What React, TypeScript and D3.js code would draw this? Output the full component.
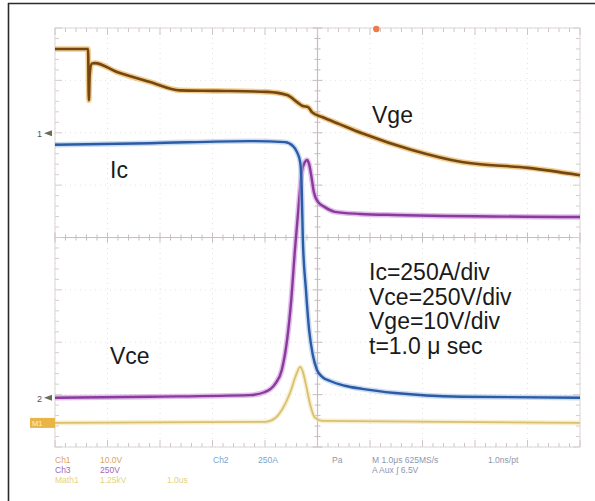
import React from "react";
import * as d3 from "d3";

// time in divisions (1.0 µs/div), value in divisions from centre line
const vgeT = [0, 0.63, 0.645, 0.66, 0.7, 0.76, 1.18, 1.81, 2.38, 3.09, 4.04, 4.42, 4.63, 4.72, 4.82, 4.9, 5.09, 5.43, 5.85, 6.8, 7.75, 9.01, 10];
const vgeV = [3.6, 3.6, 2.62, 3.1, 3.32, 3.33, 3.16, 2.97, 2.81, 2.8, 2.78, 2.72, 2.57, 2.51, 2.49, 2.39, 2.3, 2.16, 1.99, 1.67, 1.44, 1.33, 1.19];

const icT = [0, 1.81, 3.71, 4.38, 4.53, 4.61, 4.67, 4.7, 4.72, 4.78, 4.84, 4.91, 4.99, 5.09, 5.24, 5.52, 5.85, 6.48, 7.75, 10];
const icV = [1.77, 1.8, 1.84, 1.82, 1.75, 1.63, 1.44, 0.91, -0.01, -1.0, -1.76, -2.24, -2.53, -2.66, -2.74, -2.83, -2.89, -2.97, -3.04, -3.06];

const vceT = [0, 1.81, 3.71, 4.0, 4.19, 4.32, 4.42, 4.5, 4.57, 4.65, 4.7, 4.76, 4.8, 4.84, 4.88, 4.93, 5.01, 5.14, 5.33, 5.81, 6.48, 10];
const vceV = [-3.06, -3.04, -3.01, -2.95, -2.8, -2.53, -1.96, -1.19, -0.24, 0.72, 1.25, 1.44, 1.48, 1.4, 1.19, 0.87, 0.68, 0.58, 0.49, 0.45, 0.43, 0.39];

const mathT = [0, 4.0, 4.19, 4.34, 4.48, 4.59, 4.67, 4.72, 4.78, 4.86, 4.95, 5.09, 10];
const mathV = [-3.54, -3.52, -3.45, -3.26, -2.96, -2.63, -2.47, -2.56, -2.81, -3.19, -3.44, -3.5, -3.54];

const scaleLines = ["Ic=250A/div", "Vce=250V/div", "Vge=10V/div", "t=1.0 μ sec"];
const statusLeft = [
  { a: "Ch1", b: "10.0V", c: "#d9a467" },
  { a: "Ch3", b: "250V", c: "#a067b8" },
  { a: "Math1", b: "1.25kV", c: "#e6d27a" },
];

export default function App() {
  const W = 595, H = 501;
  const x = d3.scaleLinear().domain([0, 10]).range([55, 580]);
  const y = d3.scaleLinear().domain([-4, 4]).range([447, 28]);
  const line = d3.line<[number, number]>().x(d => x(d[0])).y(d => y(d[1])).curve(d3.curveMonotoneX);
  const zip = (a: number[], b: number[]) => a.map((t, i) => [t, b[i]] as [number, number]);

  const traces = [
    { d: zip(mathT, mathV), core: "#d9c070", glow: "#f0e2a8", w: 1.8 },
    { d: zip(vceT, vceV), core: "#8a3a9c", glow: "#c98ad8", w: 2.4 },
    { d: zip(icT, icV), core: "#2b5aa6", glow: "#9cc0e6", w: 2.4 },
    { d: zip(vgeT, vgeV), core: "#74470f", glow: "#e5a236", w: 2.6 },
  ];

  const majorX = d3.range(0, 11);
  const majorY = d3.range(-4, 5);
  const minorX = d3.range(0, 50.01, 1).map(v => v / 5);
  const minorY = d3.range(-20, 20.01, 1).map(v => v / 5);
  const gridCol = "#c9bcbc";
  const font = "Liberation Sans, Arial, sans-serif";

  return (
    <svg width={W} height={H} style={{ position: "absolute", left: 0, top: 0, background: "#fff" }}>
      <rect x={0} y={0} width={W} height={H} fill="#ffffff" />
      {/* frame */}
      <line x1={8} y1={3.5} x2={595} y2={3.5} stroke="#2b2b2b" strokeWidth={1.6} />
      <line x1={8.5} y1={3} x2={8.5} y2={501} stroke="#2b2b2b" strokeWidth={1.6} />

      {/* faint major grid */}
      {majorX.map(v => (
        <line key={"gx" + v} x1={x(v)} x2={x(v)} y1={y(4)} y2={y(-4)} stroke="#e6e2e2" strokeWidth={1} strokeDasharray="1 4" />
      ))}
      {majorY.map(v => (
        <line key={"gy" + v} x1={x(0)} x2={x(10)} y1={y(v)} y2={y(v)} stroke="#e6e2e2" strokeWidth={1} strokeDasharray="1 4" />
      ))}
      {/* graticule edges */}
      <rect x={x(0)} y={y(4)} width={x(10) - x(0)} height={y(-4) - y(4)} fill="none" stroke="#ddd6d6" strokeWidth={1} />
      {/* centre cross */}
      <line x1={x(0)} x2={x(10)} y1={y(0)} y2={y(0)} stroke={gridCol} strokeWidth={1.2} />
      <line x1={x(5)} x2={x(5)} y1={y(4)} y2={y(-4)} stroke={gridCol} strokeWidth={1.2} />
      {minorX.map(v => {
        const big = Math.abs(v - Math.round(v)) < 1e-6;
        const l = big ? 5 : 3;
        return (
          <g key={"mx" + v}>
            <line x1={x(v)} x2={x(v)} y1={y(0) - l} y2={y(0) + l} stroke={gridCol} strokeWidth={1} />
            <line x1={x(v)} x2={x(v)} y1={y(4)} y2={y(4) + (big ? 7 : 4)} stroke="#cfc6c6" strokeWidth={1} />
            <line x1={x(v)} x2={x(v)} y1={y(-4)} y2={y(-4) - (big ? 7 : 4)} stroke="#cfc6c6" strokeWidth={1} />
          </g>
        );
      })}
      {minorY.map(v => {
        const big = Math.abs(v - Math.round(v)) < 1e-6;
        const l = big ? 5 : 3;
        return (
          <g key={"my" + v}>
            <line x1={x(5) - l} x2={x(5) + l} y1={y(v)} y2={y(v)} stroke={gridCol} strokeWidth={1} />
            <line x1={x(0)} x2={x(0) + (big ? 7 : 4)} y1={y(v)} y2={y(v)} stroke="#d6cece" strokeWidth={1} />
            <line x1={x(10)} x2={x(10) - (big ? 7 : 4)} y1={y(v)} y2={y(v)} stroke="#d6cece" strokeWidth={1} />
          </g>
        );
      })}

      {/* trigger marker */}
      <circle cx={x(6.12)} cy={y(4) + 1} r={3.2} fill="#ec7a4a" />

      {/* traces */}
      {traces.map((t, i) => (
        <g key={"tr" + i}>
          <path d={line(t.d) || ""} fill="none" stroke={t.glow} strokeWidth={t.w + 3} strokeOpacity={0.55} strokeLinejoin="round" />
          <path d={line(t.d) || ""} fill="none" stroke={t.core} strokeWidth={t.w} strokeLinejoin="round" />
        </g>
      ))}

      {/* channel markers */}
      <text x={37} y={y(1.99) + 4} fontFamily={font} fontSize={9} fill="#555">1</text>
      <path d={`M44,${y(1.99)} l8,-3 v6 z`} fill="#6b6b5a" />
      <text x={37} y={y(-3.06) + 4} fontFamily={font} fontSize={9} fill="#555">2</text>
      <path d={`M44,${y(-3.06)} l8,-3 v6 z`} fill="#6b6b5a" />
      <rect x={30} y={y(-3.54) - 5} width={25} height={10} fill="#e9b546" />
      <text x={32} y={y(-3.54) + 3} fontFamily={font} fontSize={7.5} fill="#fff2c0">M1</text>

      {/* labels */}
      <text x={372} y={123} fontFamily={font} fontSize={23} fill="#1a1a1a">Vge</text>
      <text x={110} y={178} fontFamily={font} fontSize={23} fill="#1a1a1a">Ic</text>
      <text x={110} y={364} fontFamily={font} fontSize={23} fill="#1a1a1a">Vce</text>
      {scaleLines.map((s, i) => (
        <text key={s} x={369} y={280 + i * 24.5} fontFamily={font} fontSize={23} fill="#1a1a1a">{s}</text>
      ))}

      {/* status line */}
      {statusLeft.map((s, i) => (
        <g key={s.a}>
          <text x={55} y={463 + i * 10} fontFamily={font} fontSize={8.5} fill={s.c}>{s.a}</text>
          <text x={100} y={463 + i * 10} fontFamily={font} fontSize={8.5} fill={s.c}>{s.b}</text>
        </g>
      ))}
      <text x={167} y={483} fontFamily={font} fontSize={8.5} fill="#e6d27a">1.0us</text>
      <text x={213} y={463} fontFamily={font} fontSize={8.5} fill="#7aa6cc">Ch2</text>
      <text x={258} y={463} fontFamily={font} fontSize={8.5} fill="#7aa6cc">250A</text>
      <text x={332} y={463} fontFamily={font} fontSize={8.5} fill="#8e96ae">Pa</text>
      <text x={372} y={463} fontFamily={font} fontSize={8.5} fill="#8e96ae">M 1.0μs 625MS/s</text>
      <text x={488} y={463} fontFamily={font} fontSize={8.5} fill="#8e96ae">1.0ns/pt</text>
      <text x={372} y={473} fontFamily={font} fontSize={8.5} fill="#8e96ae">A  Aux  ∫  6.5V</text>
    </svg>
  );
}
